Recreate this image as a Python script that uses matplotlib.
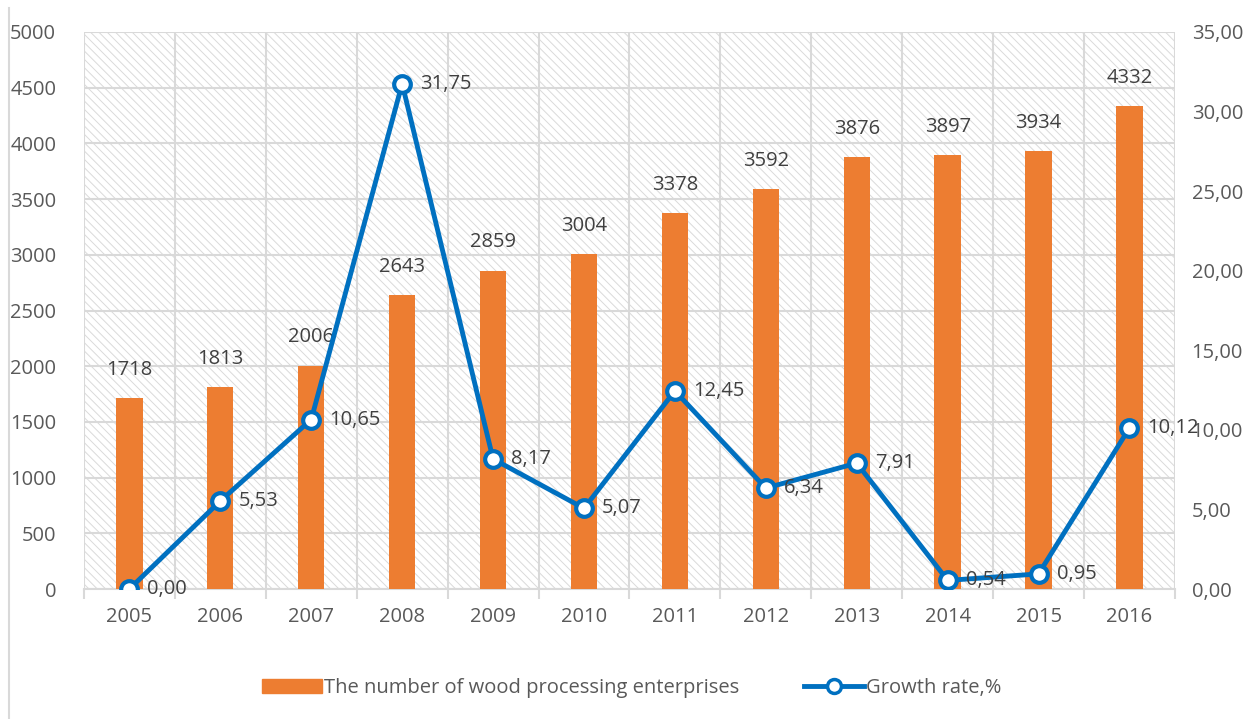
import matplotlib.pyplot as plt
from matplotlib.patches import Rectangle
from matplotlib.lines import Line2D
from matplotlib.ticker import FixedLocator, FuncFormatter

years = ["2005", "2006", "2007", "2008", "2009", "2010",
         "2011", "2012", "2013", "2014", "2015", "2016"]
enterprises = [1718, 1813, 2006, 2643, 2859, 3004, 3378, 3592, 3876, 3897, 3934, 4332]
growth = [0.00, 5.53, 10.65, 31.75, 8.17, 5.07, 12.45, 6.34, 7.91, 0.54, 0.95, 10.12]

orange = "#ED7D31"
blue = "#0070C0"
grey_txt = "#595959"
grid_c = "#d9d9d9"
fs = 14.5

plt.rcParams["font.family"] = ["Open Sans", "DejaVu Sans"]
plt.rcParams["hatch.linewidth"] = 0.7

fig = plt.figure(figsize=(12.51, 7.19), dpi=100)
ax = fig.add_axes([0.0671, 0.1808, 0.8721, 0.7747])
ax2 = ax.twinx()

x = list(range(len(years)))

# hatched background
bg = Rectangle((0, 0), 1, 1, transform=ax.transAxes, facecolor="white",
               edgecolor="#dadada", hatch="\\\\\\\\", linewidth=0, zorder=0)
ax.add_patch(bg)

ax.bar(x, enterprises, width=0.29, color=orange, zorder=3)
for xi, v in zip(x, enterprises):
    ax.annotate(str(v), (xi, v), xytext=(0, 13), textcoords="offset points",
                ha="center", va="bottom", fontsize=fs, color="#404040", zorder=5)

ax.set_xlim(-0.5, len(years) - 0.5)
ax.set_ylim(0, 5000)
ax.set_yticks(range(0, 5001, 500))
ax.yaxis.grid(True, color=grid_c, linewidth=1.5, zorder=1)
ax.set_axisbelow(True)
for b in [i + 0.5 for i in range(-1, len(years))]:
    ax.axvline(b, color=grid_c, linewidth=1.5, zorder=1)

ax.set_xticks(x)
ax.set_xticklabels(years)
ax.xaxis.set_minor_locator(FixedLocator([i + 0.5 for i in range(-1, len(years))]))
ax.tick_params(axis="x", which="major", length=0, pad=13, labelsize=fs, labelcolor=grey_txt)
ax.tick_params(axis="x", which="minor", length=7, width=1.5, color=grid_c)
ax.tick_params(axis="y", length=0, pad=20, labelsize=fs, labelcolor=grey_txt)
for s in ["left", "right", "top"]:
    ax.spines[s].set_visible(False)
ax.spines["bottom"].set_color(grid_c)
ax.spines["bottom"].set_linewidth(1.5)

ax2.plot(x, growth, color=blue, linewidth=3.5, marker="o", markersize=12,
         markerfacecolor="white", markeredgecolor=blue, markeredgewidth=3, zorder=4)
for xi, v in zip(x, growth):
    ax2.annotate(f"{v:.2f}".replace(".", ","), (xi, v), xytext=(13, 0),
                 textcoords="offset points", ha="left", va="center",
                 fontsize=fs, color="#404040", zorder=5)
ax2.set_ylim(0, 35)
ax2.set_yticks(range(0, 36, 5))
ax2.yaxis.set_major_formatter(FuncFormatter(lambda v, p: f"{v:.2f}".replace(".", ",")))
ax2.tick_params(axis="y", length=0, pad=12, labelsize=fs, labelcolor=grey_txt)
for s in ax2.spines.values():
    s.set_visible(False)

# chart frame edge on the left
fig.add_artist(Line2D([0.0072, 0.0072], [0.0, 0.989], color=grid_c, linewidth=1.5))

handles = [Rectangle((0, 0), 1, 1, color=orange),
           Line2D([], [], color=blue, linewidth=3.5, marker="o", markersize=10,
                  markerfacecolor="white", markeredgecolor=blue, markeredgewidth=2.5)]
fig.legend(handles, ["The number of wood processing enterprises", "Growth rate,%"],
           loc="center", bbox_to_anchor=(0.505, 0.043), ncol=2, frameon=False,
           fontsize=fs, labelcolor=grey_txt, handlelength=3.0, handletextpad=0.1,
           columnspacing=3.2)

fig.savefig("out.png", dpi=100)
